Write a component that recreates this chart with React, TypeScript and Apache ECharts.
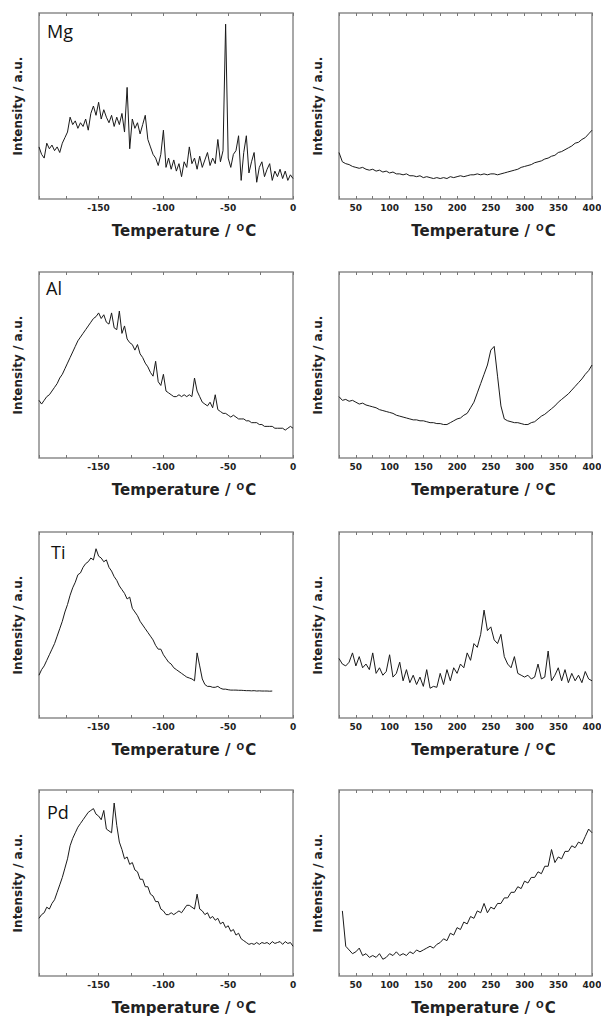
import React, { useEffect, useRef } from "react";
import * as echarts from "echarts";

// Temperatures (°C) for the low-temperature scans (left column)
const tempLow = [
  -196, -194, -192, -190, -188, -186, -184, -182, -180, -178,
  -176, -174, -172, -170, -168, -166, -164, -162, -160, -158,
  -156, -154, -152, -150, -148, -146, -144, -142, -140, -138,
  -136, -134, -132, -130, -128, -126, -124, -122, -120, -118,
  -116, -114, -112, -110, -108, -106, -104, -102, -100, -98,
  -96, -94, -92, -90, -88, -86, -84, -82, -80, -78,
  -76, -74, -72, -70, -68, -66, -64, -62, -60, -58,
  -56, -54, -52, -50, -48, -46, -44, -42, -40, -38,
  -36, -34, -32, -30, -28, -26, -24, -22, -20, -18,
  -16, -14, -12, -10, -8, -6, -4, -2, 0,
];

// Temperatures (°C) for the high-temperature scans (right column)
const tempHigh = [
  25, 30, 35, 40, 45, 50, 55, 60, 65, 70,
  75, 80, 85, 90, 95, 100, 105, 110, 115, 120,
  125, 130, 135, 140, 145, 150, 155, 160, 165, 170,
  175, 180, 185, 190, 195, 200, 205, 210, 215, 220,
  225, 230, 235, 240, 245, 250, 255, 260, 265, 270,
  275, 280, 285, 290, 295, 300, 305, 310, 315, 320,
  325, 330, 335, 340, 345, 350, 355, 360, 365, 370,
  375, 380, 385, 390, 395, 400,
];

const mgLow = [
  28, 24, 22, 30, 27, 29, 26, 28, 25, 30,
  33, 36, 44, 40, 42, 38, 41, 39, 43, 37,
  46, 50, 45, 52, 43, 48, 44, 41, 45, 39,
  44, 40, 46, 36, 60, 27, 43, 38, 41, 35,
  40, 45, 32, 28, 24, 22, 18, 24, 37, 17,
  22, 16, 21, 15, 19, 12, 20, 17, 28, 19,
  22, 16, 23, 17, 21, 25, 18, 22, 19, 32,
  20, 26, 94, 22, 17, 24, 26, 34, 10, 25,
  34, 14, 20, 25, 9, 17, 20, 12, 16, 19,
  10, 15, 12, 16, 11, 15, 10, 13, 11,
];

const mgHigh = [
  25, 20, 19, 18.5, 17.5, 17, 16.5, 17, 16, 15.5,
  16, 15, 15.5, 14.5, 15, 14, 14.5, 13.5, 13.5, 13,
  13.5, 12.5, 12.5, 12, 12.5, 11.5, 12, 11.5, 11, 11.5,
  11, 11.5, 11, 12, 11.5, 12, 12.5, 12, 12.5, 13,
  13, 13.5, 13, 13.5, 13, 13.5, 13.5, 13, 13.5, 14,
  14.5, 15, 15.5, 16, 17, 17.5, 18, 18.5, 19.5, 20,
  20.5, 21.5, 22, 23, 23.5, 25, 25.5, 26.5, 27.5, 28.5,
  30, 30.5, 32, 33, 35, 37,
];

const alLow = [
  31, 29, 31, 33, 34, 36, 38, 40, 43, 45,
  48, 51, 54, 57, 60, 63, 65, 67, 69, 71,
  73, 75, 76, 78, 75, 77, 73, 72, 78, 70,
  69, 79, 67, 71, 64, 62, 61, 58, 61, 56,
  54, 51, 49, 46, 44, 52, 41, 39, 45, 36,
  35, 34, 33, 33, 34, 33, 34, 33, 34, 33,
  43, 36, 33, 30, 29, 28, 30, 27, 34, 26,
  25, 24, 24, 23, 22, 23, 22, 21, 21, 21,
  20, 20, 19, 19, 19, 18, 18, 17, 17, 17,
  17, 16, 16, 16, 16, 15, 16, 17, 16,
];

const alHigh = [
  33, 31, 31.5, 30.5, 31, 30, 29, 29.5, 28.5, 28,
  27.5, 27, 26, 25.5, 25, 24.5, 24, 23, 22.5, 22,
  21.5, 21, 20.5, 20.5, 20, 20, 19.5, 19, 19, 18.5,
  18.5, 18, 18, 19, 20, 21, 21.5, 23, 24, 27,
  30, 35, 40, 45, 50, 58, 60, 44, 28, 21,
  20, 19.5, 19, 19, 18.5, 18, 18, 19, 19.5, 21,
  22.5, 23.5, 25, 26.5, 28, 30, 31.5, 33, 34.5, 36.5,
  38.5, 40.5, 42.5, 45, 47, 50,
];

const tiLow = [
  23, 26, 28, 31, 34, 37, 40, 44, 48, 52,
  57, 61, 66, 70, 73, 77, 78, 81, 83, 84,
  86, 85, 91, 87, 86, 84, 85, 81, 79, 76,
  74, 71, 69, 67, 64, 65, 59, 57, 55, 52,
  50, 48, 46, 44, 42, 39, 37, 37, 34, 32,
  30, 29, 27, 26, 25, 24, 23, 22, 21.5, 21,
  20, 35, 28, 21, 18, 17, 17, 16.5, 16.5, 17,
  16, 15.5, 15.5, 15.2, 15, 15, 15, 14.9, 14.9, 14.8,
  14.7, 14.7, 14.6, 14.7, 14.5, 14.6, 14.5, 14.5, 14.5, 14.4,
  14.5,
];

const tiHigh = [
  32, 29, 28, 30, 35, 28, 33, 27, 29, 26,
  35, 24, 27, 23, 25, 34, 22, 24, 30, 20,
  26, 19, 23, 18, 22, 17, 26, 16, 17, 16.5,
  24, 18, 26, 20, 27, 24, 29, 27, 35, 31,
  40, 38, 45, 58, 47, 49, 42, 40, 45, 33,
  29, 27, 33, 24, 23, 22, 23, 21, 22, 29,
  21, 22, 36, 20, 23, 27, 20, 26, 19, 24,
  20, 23, 19, 25, 21, 20,
];

const pdLow = [
  31, 33, 34, 37, 36, 39, 41, 45, 49, 53,
  58, 63, 70, 74, 77, 80, 82, 84, 86, 88,
  89, 90, 87, 86, 84, 89, 79, 78, 77, 93,
  81, 72, 68, 63, 64, 60, 61, 57, 56, 52,
  52, 48, 48, 44, 43, 40, 40, 36, 35, 33,
  33, 34, 33, 34, 35, 34, 36, 38, 38, 37,
  36, 44, 36, 35, 33, 34, 31, 32, 30, 31,
  28, 29, 26, 27, 24, 25, 22, 23, 20, 19,
  18, 17, 17.5, 17, 18, 17, 18, 17.5, 18, 17,
  18.5, 17.5, 18, 18.5, 17, 18.5, 17.5, 18, 16,
];

const pdHigh = [
  null, 35, 16, 14, 12, 13, 15, 11, 12, 10,
  11, 10, 12, 9, 10, 12, 11, 13, 11, 12,
  11, 13, 12, 14, 13, 14, 15, 16, 15, 17,
  18, 20, 19, 23, 22, 26, 25, 29, 28, 32,
  31, 35, 34, 39, 34, 37, 36, 39, 39, 42,
  42, 45, 45, 48, 47, 51, 50, 53, 53, 56,
  55, 59, 59, 68, 61, 64, 63, 67, 67, 70,
  69, 72, 71, 75, 79, 77,
];

const sampleLabels = ["Mg", "Al", "Ti", "Pd"];
const xTitle = "{t|Temperature / }{s|O}{t|C}";
const yTitle = "Intensity / a.u.";

const FONT = '"DejaVu Sans", Verdana, sans-serif';

type Panel = { row: number; col: number; temps: number[]; vals: (number | null)[] };

const panels: Panel[] = [
  { row: 0, col: 0, temps: tempLow, vals: mgLow },
  { row: 0, col: 1, temps: tempHigh, vals: mgHigh },
  { row: 1, col: 0, temps: tempLow, vals: alLow },
  { row: 1, col: 1, temps: tempHigh, vals: alHigh },
  { row: 2, col: 0, temps: tempLow, vals: tiLow },
  { row: 2, col: 1, temps: tempHigh, vals: tiHigh },
  { row: 3, col: 0, temps: tempLow, vals: pdLow },
  { row: 3, col: 1, temps: tempHigh, vals: pdHigh },
];

const rowTops = [13, 272, 532, 790];
const colLefts = [39, 339];
const colWidths = [254, 253];
const panelHeight = 186;
const labelPos = [
  { left: 47, top: 22 },
  { left: 46, top: 279 },
  { left: 51, top: 543 },
  { left: 47, top: 803 },
];

function buildOption() {
  const grid: any[] = [];
  const xAxis: any[] = [];
  const yAxis: any[] = [];
  const series: any[] = [];

  panels.forEach((p, i) => {
    const range = p.col === 0 ? { min: -196, max: 0 } : { min: 25, max: 400 };
    grid.push({
      left: colLefts[p.col],
      top: rowTops[p.row],
      width: colWidths[p.col],
      height: panelHeight,
      show: true,
      borderColor: "#8c8c8c",
      borderWidth: 1.5,
      backgroundColor: "transparent",
      containLabel: false,
      outerBoundsMode: "none",
    });
    const tick = { show: true, inside: true, length: 3, lineStyle: { color: "#777", width: 1 } };
    xAxis.push({
      type: "value",
      gridIndex: i,
      position: "bottom",
      min: range.min,
      max: range.max,
      minInterval: 25,
      maxInterval: 25,
      splitNumber: 8,
      axisLine: { show: false },
      axisTick: tick,
      splitLine: { show: false },
      axisLabel: {
        margin: 4,
        fontSize: 9,
        fontWeight: "bold",
        fontFamily: FONT,
        color: "#222",
        hideOverlap: false,
        formatter: (v: number) => {
          const r = Math.round(v);
          return Math.abs(v - r) < 1e-6 && r % 50 === 0 ? String(r) : "";
        },
      },
      name: xTitle,
      nameLocation: "middle",
      nameGap: 24,
      nameTextStyle: {
        fontSize: 15,
        fontWeight: "bold",
        fontFamily: FONT,
        color: "#222",
        padding: [0, 0, 0, 36],
        rich: {
          t: { fontSize: 15, fontWeight: "bold", fontFamily: FONT, color: "#222", lineHeight: 15, verticalAlign: "middle" },
          s: { fontSize: 9, fontWeight: "bold", fontFamily: FONT, color: "#222", lineHeight: 8, verticalAlign: "top", padding: [0, 1, 0, 1] },
        },
      },
    });
    xAxis.push({
      type: "value",
      gridIndex: i,
      position: "top",
      min: range.min,
      max: range.max,
      minInterval: 25,
      maxInterval: 25,
      splitNumber: 8,
      axisLine: { show: false },
      axisTick: tick,
      splitLine: { show: false },
      axisLabel: { show: false },
    });
    yAxis.push({
      type: "value",
      gridIndex: i,
      min: 0,
      max: 100,
      axisLine: { show: false },
      axisTick: { show: false },
      axisLabel: { show: false },
      splitLine: { show: false },
      name: yTitle,
      nameLocation: "middle",
      nameGap: 15,
      nameTextStyle: { fontSize: 12, fontWeight: "bold", fontFamily: FONT, color: "#222" },
    });
    const data: [number, number][] = [];
    p.vals.forEach((v, k) => {
      if (v !== null && v !== undefined && k < p.temps.length) data.push([p.temps[k], v]);
    });
    series.push({
      type: "line",
      xAxisIndex: 2 * i,
      yAxisIndex: i,
      data,
      showSymbol: false,
      symbol: "none",
      clip: true,
      silent: true,
      lineStyle: { color: "#1a1a1a", width: 1 },
    });
  });

  const title = sampleLabels.map((t, r) => ({
    text: t,
    left: labelPos[r].left,
    top: labelPos[r].top,
    padding: 0,
    textStyle: { fontSize: 18, fontWeight: "normal", fontFamily: '"Open Sans", "Noto Sans", sans-serif', color: "#111" },
  }));

  return { animation: false, backgroundColor: "#ffffff", title, grid, xAxis, yAxis, series };
}

export default function App() {
  const ref = useRef<HTMLDivElement>(null);
  useEffect(() => {
    document.body.style.margin = "0";
    if (!ref.current) return;
    const chart = echarts.init(ref.current, undefined, { renderer: "svg" });
    chart.setOption(buildOption() as any);
    return () => chart.dispose();
  }, []);
  return <div ref={ref} style={{ width: 601, height: 1016 }} />;
}
